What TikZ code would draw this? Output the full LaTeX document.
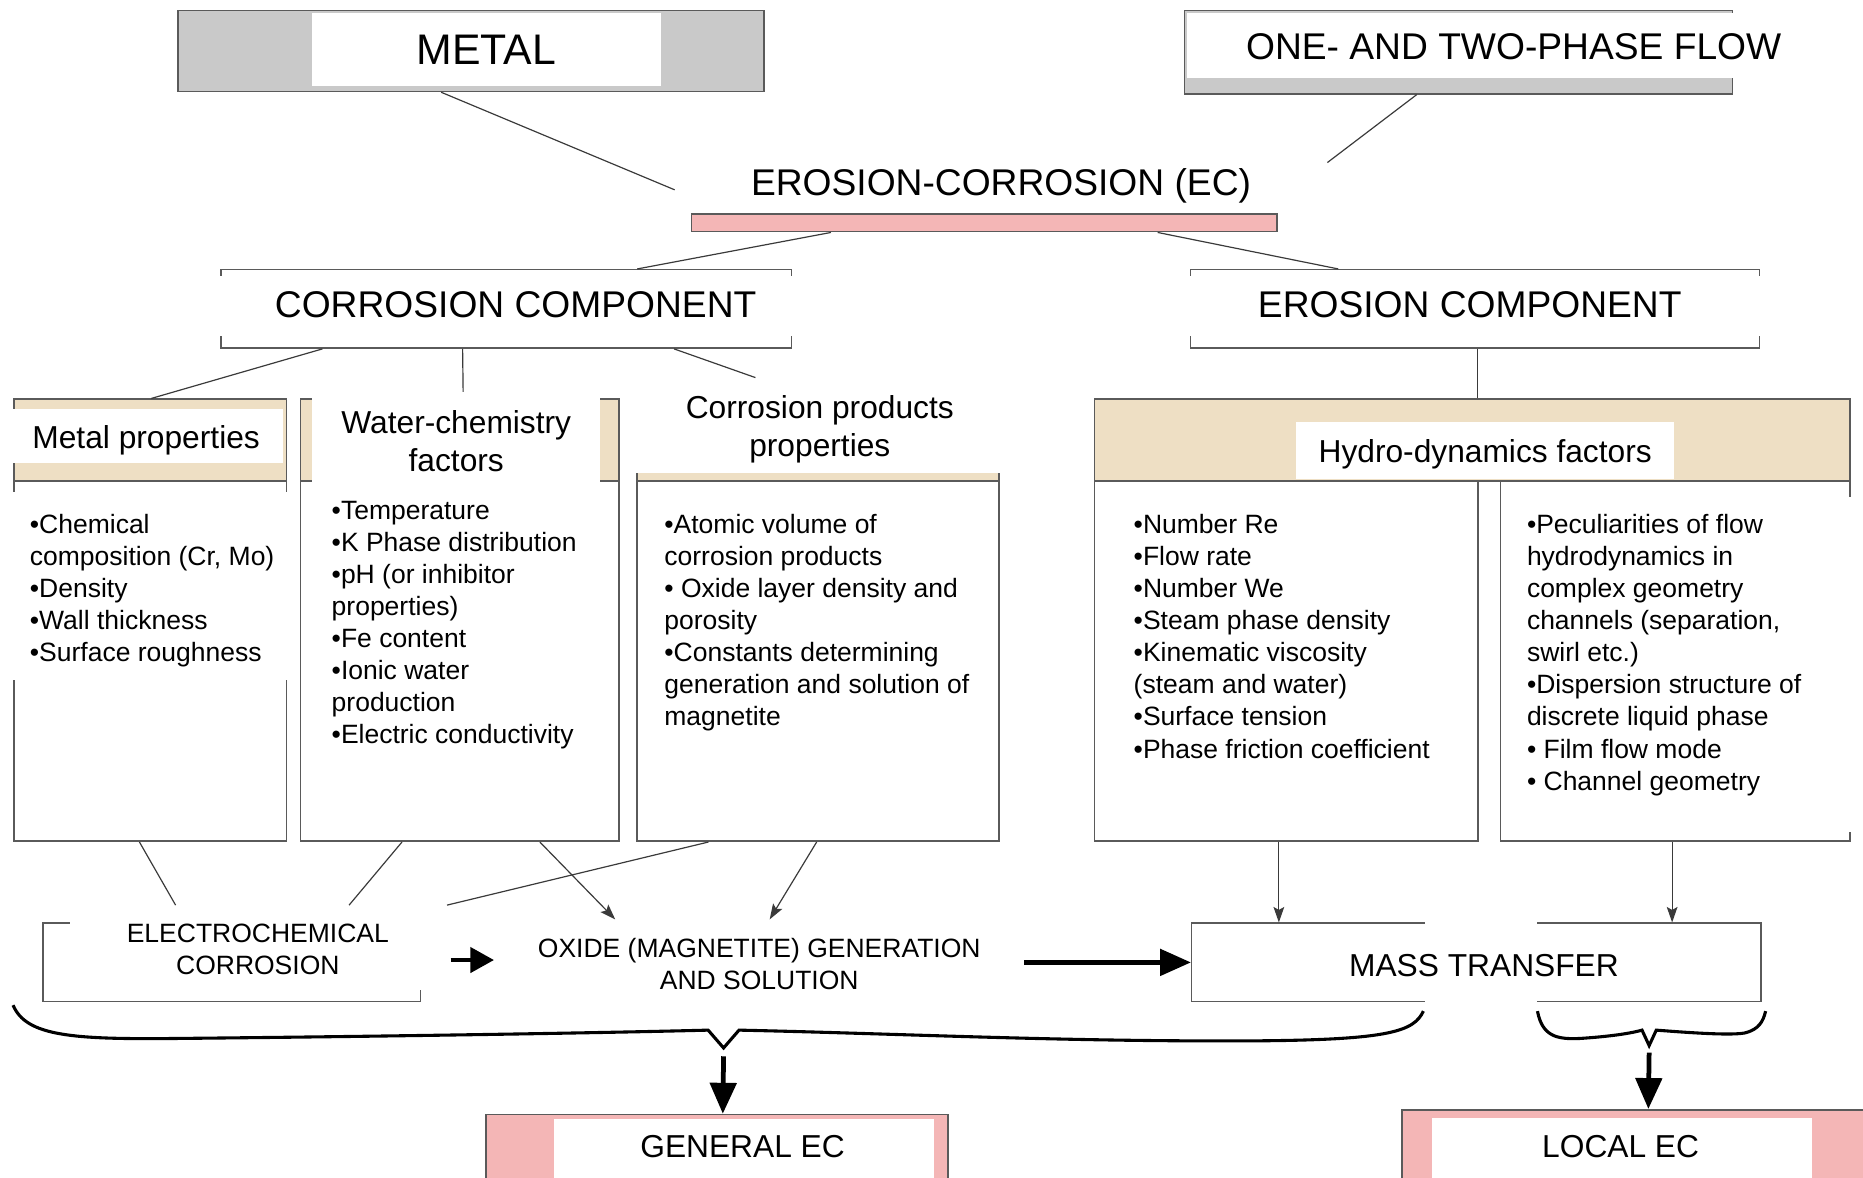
\documentclass[tikz,border=0pt]{standalone}
\usepackage{fontspec}
\setmainfont{Liberation Sans}
\usetikzlibrary{arrows.meta,fit}
\definecolor{pinkf}{HTML}{F4B6B6}
\definecolor{grayf}{HTML}{C9C9C9}
\definecolor{tanf}{HTML}{EEDFC4}
\definecolor{bord}{HTML}{5A5A5A}
\definecolor{lin}{HTML}{3A3A3A}
\begin{document}
\begin{tikzpicture}[x=1pt,y=-1pt,
  box/.style={draw=bord,line width=1.3pt,inner sep=0pt},
  ov/.style={fill=white,draw=none,inner sep=0pt},
  conn/.style={draw=lin,line width=1pt},
  thinarrow/.style={conn,-{Stealth[length=13pt,width=9pt,inset=2.5pt]}},
  bigarrow/.style={draw=black,line width=4pt,-{Triangle[length=26pt,width=22pt]}},
  bracepath/.style={draw=black,line width=2.6pt,line join=miter},
  fA/.style={font=\fontsize{36}{43}\selectfont},
  fB/.style={font=\fontsize{31.3}{38}\selectfont},
  fC/.style={font=\fontsize{26.7}{32}\selectfont},
  fD/.style={font=\fontsize{22.3}{27}\selectfont},
  txt/.style={inner sep=0pt,anchor=base},
  ltxt/.style={inner sep=0pt,anchor=base west},
]
\path[use as bounding box,fill=white] (0,0) rectangle (1568,991);

% ---------- boxes ----------
\node[box,fill=grayf,fit={(150,9) (643,77)}] (metal) {};
\node[box,fill=grayf,fit={(997,9) (1458,79)}] (flow) {};
\node[box,fill=pinkf,fit={(582,180) (1075,195)}] (ec) {};
\node[box,fit={(186,227) (666,293)}] (cc) {};
\node[box,fit={(1002,227) (1481,293)}] (ecomp) {};

\node[box,fill=tanf,fit={(12,336) (241,405)}] (mphead) {};
\node[box,fit={(12,336) (241,708)}] (mp) {};
\node[box,fill=tanf,fit={(253,336) (521,405)}] (wchead) {};
\node[box,fit={(253,336) (521,708)}] (wc) {};
\node[box,fill=tanf,fit={(536,336) (841,405)}] (cphead) {};
\node[box,fit={(536,336) (841,708)}] (cp) {};
\node[box,fill=tanf,fit={(921,336) (1557,405)}] (hd) {};
\node[box,fit={(921,405) (1244,708)}] (hdl) {};
\node[box,fit={(1263,405) (1557,708)}] (hdr) {};

\node[box,fit={(36,777) (354,843)}] (el) {};
\node[box,fit={(1003,777) (1482,843)}] (mt) {};
\node[box,fill=pinkf,fit={(409,938) (798,1000)}] (gen) {};
\node[box,fill=pinkf,fit={(1180,934) (1580,1000)}] (loc) {};

% ---------- white overlays ----------
\node[ov,fit={(263,11) (556,72)}] (metalw) {};
\node[ov,fit={(999,11) (1548,66)}] (floww) {};
\node[ov,fit={(568,126) (1117,179.5)}] (ecw) {};
\node[ov,fit={(176,232) (692,283)}] (ccw) {};
\node[ov,fit={(962,232) (1512,283)}] (ecompw) {};
\node[ov,fit={(8,344) (238,390)}] (mpw) {};
\node[ov,fit={(8,414) (248,572)}] (mpb) {};
\node[ov,fit={(263,330) (505,666)}] (wcw) {};
\node[ov,fit={(528,318) (852,398)}] (cpw) {};
\node[ov,fit={(1091,355) (1409,403)}] (hdw) {};
\node[ov,fit={(1270,418) (1575,700)}] (hdrw) {};
\node[ov,fit={(59,762) (376,833)}] (elw) {};
\node[ov,fit={(416,774) (862,846)}] (oxw) {};
\node[ov,fit={(1199,770) (1294,850)}] (mtw) {};
\node[ov,fit={(466,942) (786,1000)}] (genw) {};
\node[ov,fit={(1205,941) (1525,1000)}] (locw) {};

% ---------- connectors ----------
\draw[conn] ([xshift=222pt]metal.south west) -- ([yshift=-7pt]ecw.west);
\draw[conn] ([xshift=196pt]flow.south west) -- ([yshift=-11pt]ecw.north east);
\draw[conn] ([xshift=118pt]ec.south west) -- ([xshift=351pt]cc.north west);
\draw[conn] ([xshift=393pt]ec.south west) -- ([xshift=125pt]ecomp.north west);
\draw[conn] ([xshift=86pt]cc.south west) -- ([xshift=116pt]mp.north west);
\draw[conn] ([xshift=204pt]cc.south west) -- ([xshift=127pt]wcw.north west);
\draw[conn] ([xshift=382pt]cc.south west) -- ([xshift=108pt]cpw.north west);
\draw[conn] ([xshift=242pt]ecomp.south west) -- ([xshift=323pt]hd.north west);

\draw[conn] ([xshift=106pt]mp.south west) -- ([xshift=89pt]elw.north west);
\draw[conn] ([xshift=86pt]wc.south west) -- ([xshift=235pt]elw.north west);
\draw[thinarrow] ([xshift=202pt]wc.south west) -- ([xshift=102pt]oxw.north west);
\draw[conn] ([xshift=61pt]cp.south west) -- (elw.north east);
\draw[thinarrow] ([xshift=152pt]cp.south west) -- ([xshift=232pt]oxw.north west);
\draw[thinarrow] ([xshift=156pt]hdl.south west) -- ([xshift=74pt]mt.north west);
\draw[thinarrow] ([xshift=145pt]hdr.south west) -- ([xshift=405pt]mt.north west);

\draw[bigarrow,-{Triangle[length=20pt,width=21pt]}] ([xshift=3pt,yshift=-10.5pt]elw.east) -- ([yshift=2pt]oxw.west);
\draw[bigarrow] (oxw.east) -- (mt.west);

% ---------- braces ----------
\draw[bracepath] (11,846) .. controls (22,872) and (60,875) .. (150,874)
  .. controls (350,872) and (520,869) .. (596,867) -- (609,882) -- (622,867)
  .. controls (760,870) and (900,877) .. (1060,876)
  .. controls (1170,875) and (1190,868) .. (1198,851);
\draw[bracepath] (1294,851) .. controls (1298,872) and (1310,875) .. (1330,874)
  .. controls (1360,872) and (1375,869) .. (1382,867) -- (1388,880) -- (1394,867)
  .. controls (1420,869) and (1460,872) .. (1470,869)
  .. controls (1480,866) and (1484,860) .. (1486,851);
\coordinate (gtip) at (609,889);
\coordinate (ltip) at (1388,886);
\draw[bigarrow] (gtip) -- ([xshift=200pt]gen.north west);
\draw[bigarrow] (ltip) -- ([xshift=208pt]loc.north west);

% ---------- texts ----------
\node[txt,fA] (tmetal) at (409.5,54.4) {METAL};
\node[txt,fB] (tflow) at (1274,50.2) {ONE- AND TWO-PHASE FLOW};
\node[txt,fB] (tec) at (842.5,164.5) {EROSION-CORROSION (EC)};
\node[txt,fB] (tcc) at (434,267.2) {CORROSION COMPONENT};
\node[txt,fB] (tecomp) at (1237,267.2) {EROSION COMPONENT};

\node[txt,fC] (tmph) at (123,377.6) {Metal properties};
\node[txt,fC] (twch) at (384,364.6) {\begin{tabular}[t]{@{}c@{}}Water-chemistry\\factors\end{tabular}};
\node[txt,fC] (tcph) at (690,352.6) {\begin{tabular}[t]{@{}c@{}}Corrosion products\\properties\end{tabular}};
\node[txt,fC] (thd) at (1250,389.6) {Hydro-dynamics factors};

\node[ltxt,fD] (tmp) at (25,449) {\begin{tabular}[t]{@{}l@{}}•Chemical\\composition (Cr, Mo)\\•Density\\•Wall thickness\\•Surface roughness\end{tabular}};
\node[ltxt,fD] (twc) at (279,437) {\begin{tabular}[t]{@{}l@{}}•Temperature\\•K Phase distribution\\•pH (or inhibitor\\properties)\\•Fe content\\•Ionic water\\production\\•Electric conductivity\end{tabular}};
\node[ltxt,fD] (tcp) at (559,449) {\begin{tabular}[t]{@{}l@{}}•Atomic volume of\\corrosion products\\• Oxide layer density and\\porosity\\•Constants determining\\generation and solution of\\magnetite\end{tabular}};
\node[ltxt,fD] (thdl) at (954,449) {\begin{tabular}[t]{@{}l@{}}•Number Re\\•Flow rate\\•Number We\\•Steam phase density\\•Kinematic viscosity\\(steam and water)\\•Surface tension\\•Phase friction coefficient\end{tabular}};
\node[ltxt,fD] (thdr) at (1285,449) {\begin{tabular}[t]{@{}l@{}}•Peculiarities of flow\\hydrodynamics in\\complex geometry\\channels (separation,\\swirl etc.)\\•Dispersion structure of\\discrete liquid phase\\• Film flow mode\\• Channel geometry\end{tabular}};

\node[txt,fD] (tel) at (217,793) {\begin{tabular}[t]{@{}c@{}}ELECTROCHEMICAL\\CORROSION\end{tabular}};
\node[txt,fD] (tox) at (639,806) {\begin{tabular}[t]{@{}c@{}}OXIDE (MAGNETITE) GENERATION\\AND SOLUTION\end{tabular}};
\node[txt,fC] (tmt) at (1249,821.6) {MASS TRANSFER};
\node[txt,fC] (tgen) at (625,974.5) {GENERAL EC};
\node[txt,fC] (tloc) at (1364,974.5) {LOCAL EC};
\end{tikzpicture}
\end{document}
